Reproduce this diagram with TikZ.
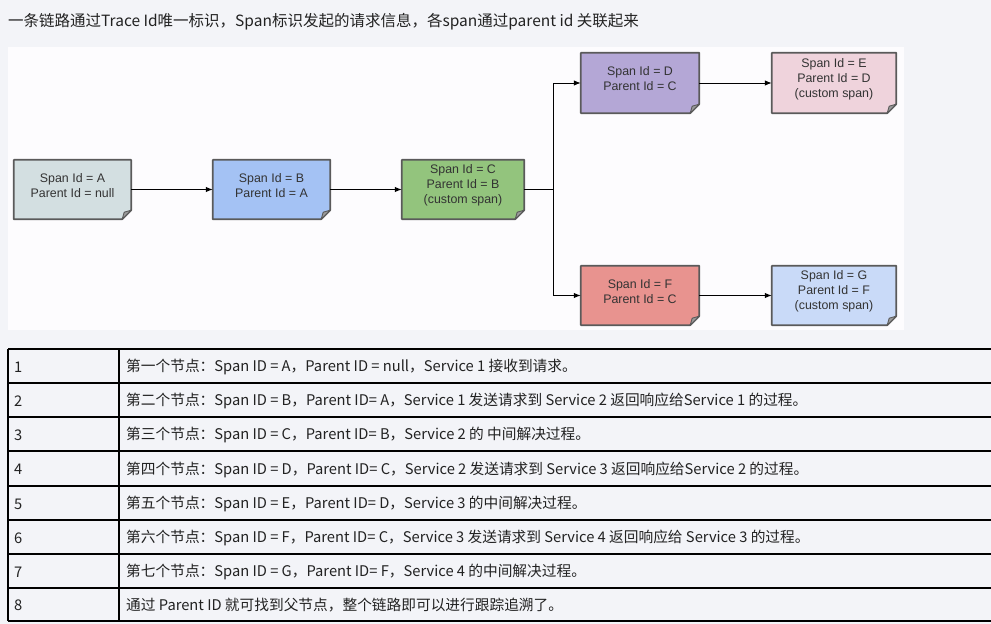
\documentclass[tikz,border=0pt]{standalone}
\usepackage{fontspec}
\setmainfont{Liberation Sans}
\newfontfamily\cjk{Noto Sans CJK SC}
\usetikzlibrary{arrows.meta,backgrounds}
\pgfdeclarelayer{boxes}
\pgfsetlayers{background,boxes,main}

\definecolor{pagebg}{HTML}{F3F4F8}
\definecolor{panelbg}{HTML}{FDFCFE}
\definecolor{boxedge}{HTML}{5A5A5A}
\definecolor{foldgray}{HTML}{9A9A9A}
\definecolor{spantext}{HTML}{333333}
\definecolor{fillA}{HTML}{D3DFE1}
\definecolor{fillB}{HTML}{A4C2F4}
\definecolor{fillC}{HTML}{93C47D}
\definecolor{fillD}{HTML}{B4A7D6}
\definecolor{fillE}{HTML}{EFD3DC}
\definecolor{fillF}{HTML}{E8938F}
\definecolor{fillG}{HTML}{C9DAF8}
\definecolor{celltext}{HTML}{222222}

% document-style box with a folded bottom-right corner, drawn behind its node
\newcommand\pagebox[2]{%
  \begin{pgfonlayer}{boxes}
    \filldraw[fill=#2, draw=boxedge, line width=1.7pt, line join=round]
      (#1.north west) -- (#1.north east) -- ([yshift=9pt]#1.south east)
      -- ([xshift=-9pt]#1.south east) -- (#1.south west) -- cycle;
    \filldraw[fill=foldgray, draw=boxedge, line width=0.9pt, line join=round]
      ([yshift=9pt]#1.south east) -- ([xshift=-9pt]#1.south east)
      -- ([xshift=-7pt,yshift=7pt]#1.south east) -- cycle;
  \end{pgfonlayer}}

\begin{document}
\begin{tikzpicture}[x=1pt,y=-1pt,
  spanbox/.style={inner sep=0pt},
  spanlabel/.style={align=center, inner sep=0pt, text=spantext,
    font=\fontsize{12.4}{15}\selectfont},
  link/.style={draw=black, line width=1pt},
  linkarrow/.style={link, -{Latex[length=7pt,width=5.5pt]}},
  grid/.style={draw=black, line width=1.2pt},
  cell/.style={anchor=west, inner sep=0pt, text=celltext,
    font=\cjk\fontsize{14.7}{17}\selectfont}]

\useasboundingbox (0,0) rectangle (991,624);
\begin{pgfonlayer}{background}
  \fill[pagebg] (0,0) rectangle (991,624);
  \fill[panelbg] (8,47) rectangle (904,330);
\end{pgfonlayer}

% heading line
\node[cell, font=\cjk\fontsize{15.5}{18}\selectfont] (title) at (8,22)
  {一条链路通过Trace Id唯一标识，Span标识发起的请求信息，各span通过parent id 关联起来};

% span boxes (outline geometry)
\node[spanbox, minimum width=117pt, minimum height=59pt] (A) at (72.5,189.5) {};
\node[spanbox, minimum width=117pt, minimum height=59pt] (B) at (271.5,189.5) {};
\node[spanbox, minimum width=122pt, minimum height=59pt] (C) at (463,189.5) {};
\node[spanbox, minimum width=118pt, minimum height=60pt] (D) at (640,83) {};
\node[spanbox, minimum width=124pt, minimum height=60pt] (E) at (834,83) {};
\node[spanbox, minimum width=118pt, minimum height=59pt] (F) at (640,295.5) {};
\node[spanbox, minimum width=124pt, minimum height=59pt] (G) at (834,295.5) {};

% span labels, set a little above the box middle
\node[spanlabel] (Atext) at ([yshift=4pt]A.center) {Span Id = A\\Parent Id = null};
\node[spanlabel] (Btext) at ([yshift=4pt]B.center) {Span Id = B\\Parent Id = A};
\node[spanlabel] (Ctext) at ([yshift=4pt]C.center) {Span Id = C\\Parent Id = B\\(custom span)};
\node[spanlabel] (Dtext) at ([yshift=4pt]D.center) {Span Id = D\\Parent Id = C};
\node[spanlabel] (Etext) at ([yshift=4pt]E.center) {Span Id = E\\Parent Id = D\\(custom span)};
\node[spanlabel] (Ftext) at ([yshift=4pt]F.center) {Span Id = F\\Parent Id = C};
\node[spanlabel] (Gtext) at ([yshift=4pt]G.center) {Span Id = G\\Parent Id = F\\(custom span)};

\pagebox{A}{fillA}
\pagebox{B}{fillB}
\pagebox{C}{fillC}
\pagebox{D}{fillD}
\pagebox{E}{fillE}
\pagebox{F}{fillF}
\pagebox{G}{fillG}

% connectors
\coordinate (split) at (553,189.5);
\draw[linkarrow] (A) -- (B);
\draw[linkarrow] (B) -- (C);
\draw[link] (C) -- (split);
\draw[linkarrow] (split) |- (D);
\draw[linkarrow] (split) |- (F);
\draw[linkarrow] (D) -- (E);
\draw[linkarrow] (F) -- (G);

% table rules
\foreach \y in {349,383,417,451,486,520,554,588,621}
  \draw[grid] (8,\y) -- (991,\y);
\draw[grid] (8,349) -- (8,621);
\draw[grid] (119,349) -- (119,621);

% table cells
\node[cell] (n1) at (14,367) {1};
\node[cell] (t1) at (126,367) {第一个节点：Span ID = A，Parent ID = null，Service 1 接收到请求。};
\node[cell] (n2) at (14,401) {2};
\node[cell] (t2) at (126,401) {第二个节点：Span ID = B，Parent ID= A，Service 1 发送请求到 Service 2 返回响应给Service 1 的过程。};
\node[cell] (n3) at (14,435) {3};
\node[cell] (t3) at (126,435) {第三个节点：Span ID = C，Parent ID= B，Service 2 的 中间解决过程。};
\node[cell] (n4) at (14,469.5) {4};
\node[cell] (t4) at (126,469.5) {第四个节点：Span ID = D，Parent ID= C，Service 2 发送请求到 Service 3 返回响应给Service 2 的过程。};
\node[cell] (n5) at (14,504) {5};
\node[cell] (t5) at (126,504) {第五个节点：Span ID = E，Parent ID= D，Service 3 的中间解决过程。};
\node[cell] (n6) at (14,538) {6};
\node[cell] (t6) at (126,538) {第六个节点：Span ID = F，Parent ID= C，Service 3 发送请求到 Service 4 返回响应给 Service 3 的过程。};
\node[cell] (n7) at (14,572) {7};
\node[cell] (t7) at (126,572) {第七个节点：Span ID = G，Parent ID= F，Service 4 的中间解决过程。};
\node[cell] (n8) at (14,605.5) {8};
\node[cell] (t8) at (126,605.5) {通过 Parent ID 就可找到父节点，整个链路即可以进行跟踪追溯了。};
\end{tikzpicture}
\end{document}
